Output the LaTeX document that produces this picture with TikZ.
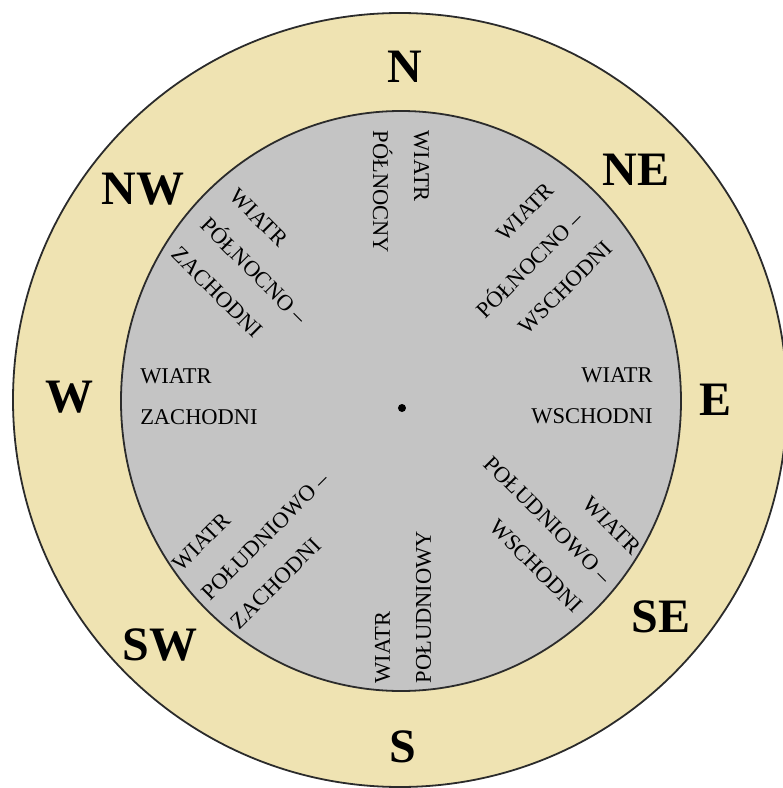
\documentclass[tikz,border=0pt]{standalone}
\usepackage{fontspec}
\setmainfont{Liberation Serif}
\usepackage{xcolor}
\usepackage{tikz}
\usetikzlibrary{positioning}
\definecolor{roseyellow}{HTML}{EFE3B2}
\definecolor{rosegray}{HTML}{C4C4C4}
\definecolor{roseline}{HTML}{2B2B2B}

\begin{document}
\begin{tikzpicture}[
  x=1pt, y=1pt,
  dir/.style={font={\fontsize{48}{48}\selectfont\bfseries}, inner sep=0pt},
  wind/.style={font={\fontsize{22.5}{41}\selectfont}, inner sep=0pt},
  ring/.style={draw=roseline, line width=1.8pt}
]
\useasboundingbox (-400,-388) rectangle (383,400);
\draw[ring, fill=roseyellow] (0,0) circle (387);
\draw[ring, fill=rosegray] (1,-1) ellipse (280 and 290);
\fill (2,-8) circle (4);
% main directions
\node[dir] (dirN) at (5,333) {N};
\node[dir] (dirNE) at (236,230) {NE};
\node[dir] (dirE) at (316,0) {E};
\node[dir] (dirSE) at (261,-217) {SE};
\node[dir] (dirS) at (3,-347) {S};
\node[dir] (dirSW) at (-240,-245) {SW};
\node[dir] (dirW) at (-330,3) {W};
\node[dir] (dirNW) at (-257,211) {NW};
% winds
\node[wind, rotate=-90, align=left] (windN) at (1,208) {WIATR\\PÓŁNOCNY};
\node[wind, rotate=45, align=right] (windNE) at (130,135) {WIATR\\PÓŁNOCNO –\\WSCHODNI};
\node[wind, align=right] (windE) at (192,4) {WIATR\\WSCHODNI};
\node[wind, rotate=-45, align=right] (windSE) at (148,-120) {WIATR\\POŁUDNIOWO –\\WSCHODNI};
\node[wind, rotate=90, align=left] (windS) at (3,-207) {WIATR\\POŁUDNIOWY};
\node[wind, rotate=45, align=left] (windSW) at (-135,-136) {WIATR\\POŁUDNIOWO –\\ZACHODNI};
\node[wind, align=left] (windW) at (-201,3) {WIATR\\ZACHODNI};
\node[wind, rotate=-45, align=left] (windNW) at (-146,129) {WIATR\\PÓŁNOCNO –\\ZACHODNI};
\end{tikzpicture}
\end{document}
